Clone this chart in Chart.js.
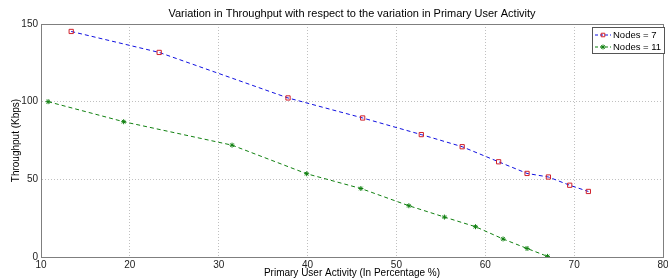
<!DOCTYPE html>
<html>
<head>
<meta charset="utf-8">
<script src="https://cdn.jsdelivr.net/npm/chart.js@4.4.0/dist/chart.umd.min.js"></script>
<style>
  html, body { margin: 0; padding: 0; background: #fff; }
  #wrap { width: 668px; height: 279px; }
</style>
</head>
<body>
<div id="wrap"><canvas id="chart1"></canvas></div>
<script>
// data
const activity7 = [13.4, 23.3, 37.8, 46.2, 52.8, 57.4, 61.5, 64.7, 67.1, 69.5, 71.6];
const throughput7 = [145.2, 131.7, 102.4, 89.5, 78.8, 71, 61.3, 53.8, 51.5, 46.2, 42.2];
const activity11 = [10.8, 19.3, 31.5, 39.9, 46.0, 51.4, 55.4, 58.9, 62.0, 64.7, 67.0];
const throughput11 = [100, 87.1, 72, 53.6, 44.1, 33, 25.7, 19.5, 11.6, 5.5, 0.4];
const seriesNames = ['Nodes = 7', 'Nodes = 11'];
const chartTitle = 'Variation in Throughput with respect to the variation in Primary User Activity';

const FONT = 'Arial, "Liberation Sans", sans-serif';

function toPoints(xs, ys) {
    return xs.map((x, i) => ({ x: x, y: ys[i] }));
}

// frame, title and an inside legend, drawn the MATLAB way
const matlabLook = {
    id: 'matlabLook',
    afterDraw(chart) {
        const ctx = chart.ctx;
        const a = chart.chartArea;
        ctx.save();
        ctx.strokeStyle = '#7f7f7f';
        ctx.lineWidth = 1;
        ctx.setLineDash([]);
        ctx.strokeRect(a.left + 0.5, a.top + 0.5, a.right - a.left, a.bottom - a.top);

        ctx.fillStyle = '#000';
        ctx.font = '11px ' + FONT;
        ctx.textAlign = 'center';
        ctx.textBaseline = 'middle';
        ctx.fillText(chartTitle, (a.left + a.right) / 2, 14);

        // legend
        const bx = 592, by = 27, bw = 72, bh = 26;
        ctx.fillStyle = '#fff';
        ctx.fillRect(bx, by, bw, bh);
        ctx.strokeStyle = '#555';
        ctx.strokeRect(bx + 0.5, by + 0.5, bw, bh);
        chart.data.datasets.forEach((ds, i) => {
            const cy = by + 8 + i * 12;
            ctx.strokeStyle = ds.borderColor;
            ctx.lineWidth = 1;
            ctx.setLineDash([3, 2]);
            ctx.beginPath();
            ctx.moveTo(bx + 3, cy);
            ctx.lineTo(bx + 19, cy);
            ctx.stroke();
            ctx.setLineDash([]);
            ctx.strokeStyle = ds.pointBorderColor;
            ctx.fillStyle = ds.pointBackgroundColor;
            Chart.helpers.drawPoint(ctx, {
                pointStyle: ds.pointStyle,
                radius: 2.5,
                borderWidth: 1
            }, bx + 11, cy);
            ctx.fillStyle = '#000';
            ctx.font = '9.5px ' + FONT;
            ctx.textAlign = 'left';
            ctx.fillText(seriesNames[i], bx + 21, cy + 0.5);
        });
        ctx.restore();
    }
};

const ctx = document.getElementById('chart1').getContext('2d');
const chart1 = new Chart(ctx, {
    type: 'scatter',
    data: {
        datasets: [{
            label: seriesNames[0],
            data: toPoints(activity7, throughput7),
            showLine: true,
            borderColor: '#1010e0',
            borderWidth: 1,
            borderDash: [4, 3],
            pointStyle: 'rect',
            pointRadius: 3,
            pointBorderColor: '#d0202a',
            pointBackgroundColor: 'rgba(255,255,255,0)',
            pointBorderWidth: 1
        }, {
            label: seriesNames[1],
            data: toPoints(activity11, throughput11),
            showLine: true,
            borderColor: '#108010',
            borderWidth: 1,
            borderDash: [4, 3],
            pointStyle: 'star',
            pointRadius: 2.5,
            pointBorderColor: '#108010',
            pointBackgroundColor: '#108010',
            pointBorderWidth: 1
        }]
    },
    options: {
        responsive: true,
        maintainAspectRatio: false,
        animation: false,
        layout: { padding: { top: 24, right: 2, left: 0, bottom: 0 } },
        plugins: {
            legend: { display: false },
            title: { display: false },
            tooltip: { enabled: false }
        },
        scales: {
            x: {
                type: 'linear',
                min: 10,
                max: 80,
                ticks: {
                    stepSize: 10,
                    color: '#222',
                    padding: 2,
                    maxRotation: 0,
                    font: { family: FONT, size: 10 }
                },
                grid: {
                    color: '#c0c0c0',
                    drawTicks: false
                },
                border: { color: '#7f7f7f', dash: [1, 2] },
                title: {
                    display: true,
                    text: 'Primary User Activity (In Percentage %)',
                    color: '#000',
                    padding: { top: 0, bottom: 0 },
                    font: { family: FONT, size: 10 }
                },
                afterFit(scale) {
                    scale.height = 22;
                    scale.paddingLeft = 0;
                    scale.paddingRight = 0;
                }
            },
            y: {
                min: 0,
                max: 150,
                ticks: {
                    stepSize: 50,
                    color: '#222',
                    padding: 3,
                    font: { family: FONT, size: 10 }
                },
                grid: {
                    color: '#c0c0c0',
                    drawTicks: false
                },
                border: { color: '#7f7f7f', dash: [1, 2] },
                title: {
                    display: true,
                    text: 'Throughput (Kbps)',
                    color: '#000',
                    padding: { top: 10, bottom: 0 },
                    font: { family: FONT, size: 10 }
                },
                afterFit(scale) {
                    scale.width = 41;
                    scale.paddingTop = 0;
                    scale.paddingBottom = 0;
                }
            }
        }
    },
    plugins: [matlabLook]
});
</script>
</body>
</html>
